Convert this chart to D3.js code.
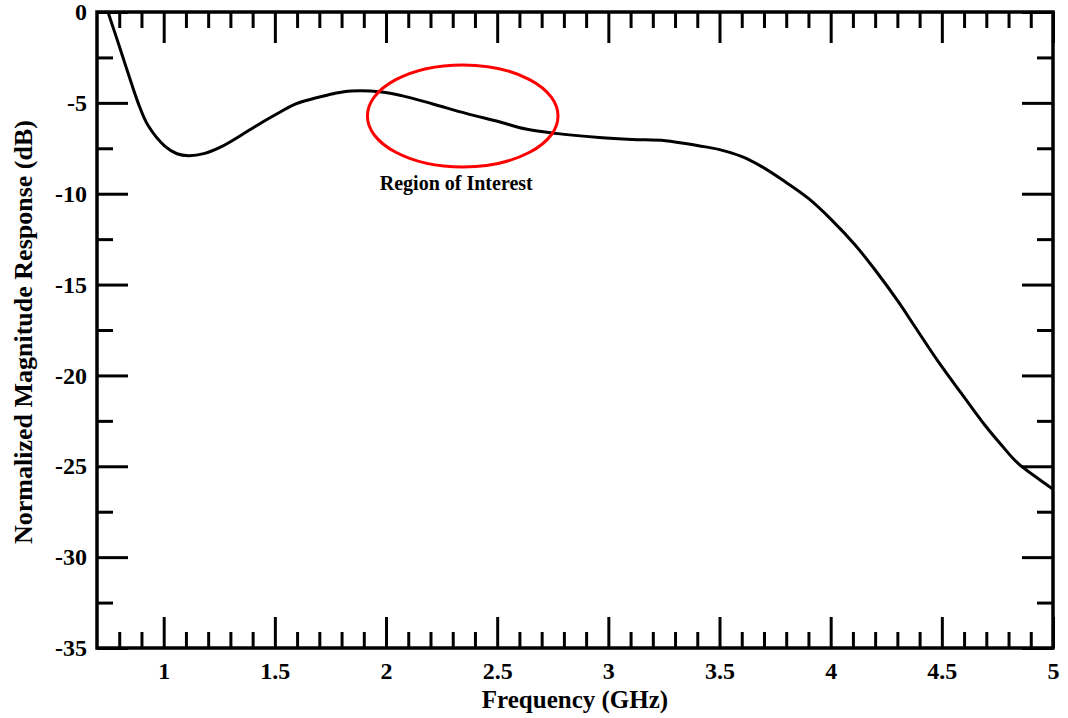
<!DOCTYPE html>
<html>
<head>
<meta charset="utf-8">
<script src="https://cdn.jsdelivr.net/npm/d3@7"></script>
<style>
  body { margin: 0; background: #fff; }
  text { font-family: "Liberation Serif", "Times New Roman", serif; font-weight: bold; }
</style>
</head>
<body>
<div id="root"></div>
<script>
// frequency (GHz) and normalized magnitude (dB)
const freq = [0.745, 0.75, 0.796, 0.84, 0.885, 0.93, 1.005, 1.06, 1.11, 1.185, 1.26, 1.35, 1.41, 1.5,
  1.589, 1.678, 1.768, 1.843, 1.98, 2.07, 2.21, 2.36, 2.509, 2.629, 2.763, 2.958, 3.107, 3.257,
  3.406, 3.496, 3.601, 3.69, 3.795, 3.9, 4.005, 4.11, 4.2, 4.304, 4.379, 4.484, 4.588, 4.693,
  4.768, 4.843, 4.993, 5.0];
const magnitude = [0.25, 0, -1.72, -3.37, -5.0, -6.25, -7.38, -7.8, -7.91, -7.78, -7.41, -6.77, -6.31, -5.67,
  -5.08, -4.75, -4.48, -4.35, -4.4, -4.6, -5.06, -5.58, -6.04, -6.44, -6.68, -6.9, -7.01, -7.08,
  -7.36, -7.56, -7.96, -8.51, -9.34, -10.26, -11.45, -12.82, -14.2, -15.94, -17.32, -19.24, -20.99, -22.73,
  -23.83, -24.84, -26.2, -26.28];

const xMajorTicks = [1, 1.5, 2, 2.5, 3, 3.5, 4, 4.5, 5];
const xMinorTicks = d3.range(8, 50).map(d => d / 10).filter(d => !xMajorTicks.includes(d));
const yMajorTicks = [0, -5, -10, -15, -20, -25, -30, -35];
const yMinorTicks = [-2.5, -7.5, -12.5, -17.5, -22.5, -27.5, -32.5];

// annotation, in data units
const roi = { cx: 2.345, cy: -5.72, rx: 0.4286, ry: 2.81, label: 'Region of Interest', labelX: 2.316, labelY: -9.8 };

const width = 1068, height = 718;
const m = { left: 97, right: 1053, top: 12, bottom: 648 };
const majorLen = 31, minorLen = 16;

const svg = d3.select('#root').append('svg')
  .attr('width', width)
  .attr('height', height);

const x = d3.scaleLinear().domain([0.7, 5]).range([m.left, m.right]);
const y = d3.scaleLinear().domain([-35, 0]).range([m.bottom, m.top]);

svg.append('defs').append('clipPath')
  .attr('id', 'clip')
  .append('rect')
  .attr('x', m.left).attr('y', m.top)
  .attr('width', m.right - m.left).attr('height', m.bottom - m.top);

const styleAxis = g => {
  g.select('.domain').remove();
  g.selectAll('.tick line').attr('stroke', '#000').attr('stroke-width', 3);
  g.selectAll('.tick text').attr('fill', '#000').style('font-size', '24px');
};

// minor ticks first
svg.append('g').attr('transform', `translate(0,${m.bottom})`)
  .call(d3.axisBottom(x).tickValues(xMinorTicks).tickSize(-minorLen).tickFormat(''))
  .call(styleAxis);
svg.append('g').attr('transform', `translate(0,${m.top})`)
  .call(d3.axisTop(x).tickValues(xMinorTicks).tickSize(-minorLen).tickFormat(''))
  .call(styleAxis);
svg.append('g').attr('transform', `translate(${m.left},0)`)
  .call(d3.axisLeft(y).tickValues(yMinorTicks).tickSize(-minorLen).tickFormat(''))
  .call(styleAxis);
svg.append('g').attr('transform', `translate(${m.right},0)`)
  .call(d3.axisRight(y).tickValues(yMinorTicks).tickSize(-minorLen).tickFormat(''))
  .call(styleAxis);

// major ticks
svg.append('g').attr('transform', `translate(0,${m.bottom})`)
  .call(d3.axisBottom(x).tickValues(xMajorTicks).tickSize(-majorLen).tickPadding(14).tickFormat(d3.format('')))
  .call(styleAxis);
svg.append('g').attr('transform', `translate(0,${m.top})`)
  .call(d3.axisTop(x).tickValues(xMajorTicks).tickSize(-majorLen).tickFormat(''))
  .call(styleAxis);
svg.append('g').attr('transform', `translate(${m.left},0)`)
  .call(d3.axisLeft(y).tickValues(yMajorTicks).tickSize(-majorLen).tickPadding(10).tickFormat(d => String(d)))
  .call(styleAxis);
svg.append('g').attr('transform', `translate(${m.right},0)`)
  .call(d3.axisRight(y).tickValues(yMajorTicks).tickSize(-majorLen).tickFormat(''))
  .call(styleAxis);

// frame
svg.append('rect')
  .attr('x', m.left).attr('y', m.top)
  .attr('width', m.right - m.left).attr('height', m.bottom - m.top)
  .attr('fill', 'none')
  .attr('stroke', '#000')
  .attr('stroke-width', 3.5);

// response curve
const line = d3.line()
  .x(i => x(freq[i]))
  .y(i => y(magnitude[i]))
  .curve(d3.curveCatmullRom.alpha(0.5));

svg.append('path')
  .datum(d3.range(freq.length))
  .attr('clip-path', 'url(#clip)')
  .attr('d', line)
  .attr('fill', 'none')
  .attr('stroke', '#000')
  .attr('stroke-width', 3);

// region of interest
svg.append('ellipse')
  .attr('cx', x(roi.cx))
  .attr('cy', y(roi.cy))
  .attr('rx', x(roi.cx + roi.rx) - x(roi.cx))
  .attr('ry', y(roi.cy - roi.ry) - y(roi.cy))
  .attr('fill', 'none')
  .attr('stroke', '#ff0000')
  .attr('stroke-width', 3);

svg.append('text')
  .attr('x', x(roi.labelX))
  .attr('y', y(roi.labelY))
  .attr('text-anchor', 'middle')
  .style('font-size', '20px')
  .text(roi.label);

// axis titles
svg.append('text')
  .attr('x', (m.left + m.right) / 2)
  .attr('y', 708)
  .attr('text-anchor', 'middle')
  .style('font-size', '25px')
  .text('Frequency (GHz)');

svg.append('text')
  .attr('transform', `translate(32,${(m.top + m.bottom) / 2 + 2}) rotate(-90)`)
  .attr('text-anchor', 'middle')
  .style('font-size', '26px')
  .text('Normalized Magnitude Response (dB)');
</script>
</body>
</html>
